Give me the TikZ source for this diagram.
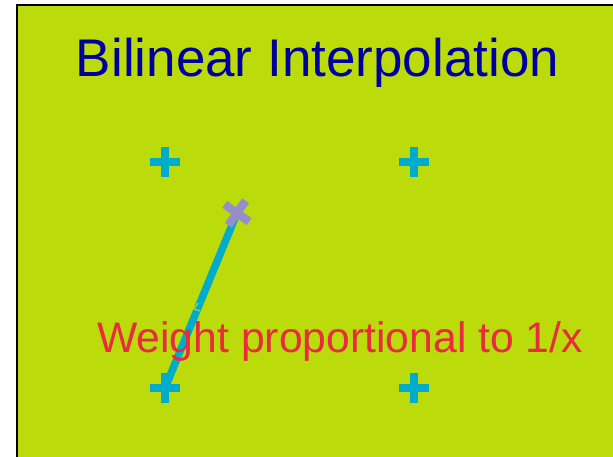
\documentclass[tikz,border=0pt]{standalone}
\usepackage{fontspec}
\setmainfont{Liberation Sans}
\definecolor{bggreen}{RGB}{187,219,11}
\definecolor{crossblue}{RGB}{0,172,204}
\definecolor{titleblue}{RGB}{0,0,160}
\definecolor{labelred}{RGB}{232,44,62}
\definecolor{markpurple}{RGB}{150,142,204}
\tikzset{
  plusmark/.pic={\fill (-15,-4.2) rectangle (15,4.2); \fill (-4.2,-15) rectangle (4.2,15);},
  crossmark/.pic={\fill (-15,-4.2) rectangle (15,4.2); \fill (-4.2,-15) rectangle (4.2,15);},
  titletext/.style={text=titleblue, font=\fontsize{53}{60}\selectfont, inner sep=0pt, anchor=base},
  labeltext/.style={text=labelred, font=\fontsize{42.7}{48}\selectfont, inner sep=0pt, anchor=base},
  link/.style={crossblue, line width=7.5pt}
}
\begin{document}
\begin{tikzpicture}[x=1pt,y=-1pt]
\useasboundingbox (0,0) rectangle (613,457);
\fill[bggreen] (17,5) rectangle (613,457);
\draw[black, line width=1.5pt] (17,457) -- (17,5) -- (613,5);
\coordinate (tl) at (165,162);
\coordinate (tr) at (414,162);
\coordinate (bl) at (165,388);
\coordinate (br) at (414,388);
\coordinate (s) at (237,213);
\node[titletext] (title) at (317.5,77) {Bilinear Interpolation};
\draw[link] (bl) -- (s);
\draw[bggreen, line width=1pt] (198,303) -- (194,309) -- (200,311);
\pic[crossblue] at (tl) {plusmark};
\pic[crossblue] at (tr) {plusmark};
\pic[crossblue] at (bl) {plusmark};
\pic[crossblue] at (br) {plusmark};
\pic[markpurple, rotate=-35] at (s) {crossmark};
\node[labeltext] (label) at (340,352) {Weight proportional to 1/x};
\end{tikzpicture}
\end{document}
